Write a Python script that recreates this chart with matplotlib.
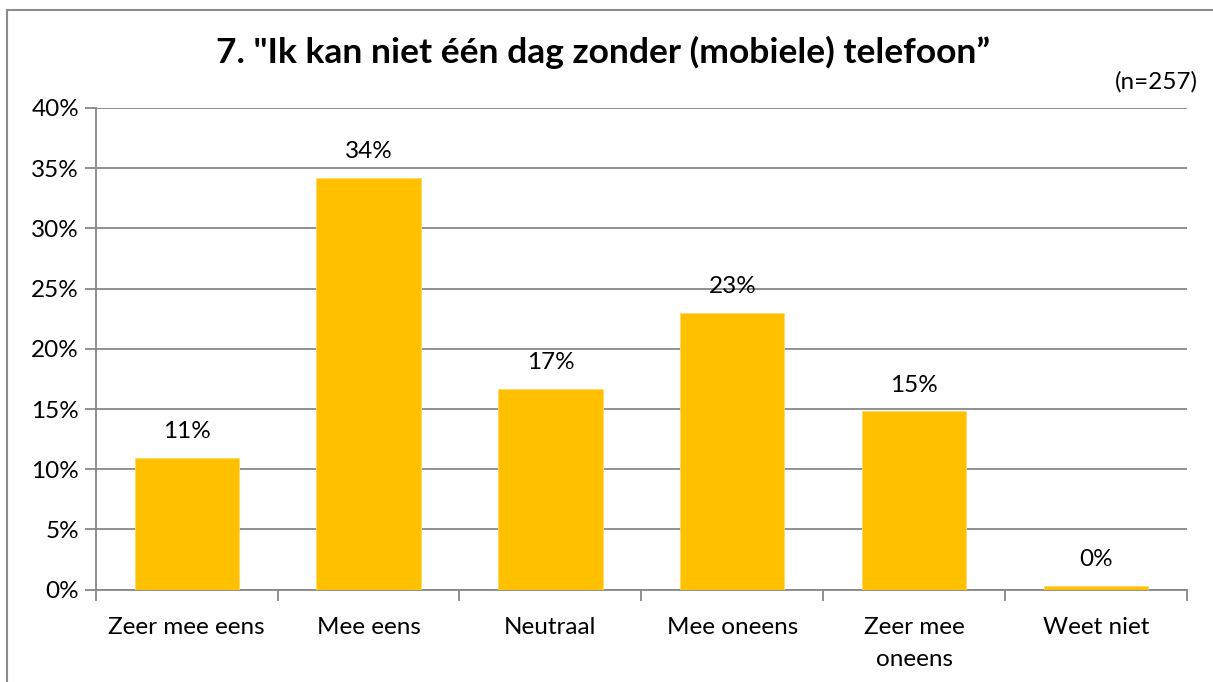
import matplotlib
matplotlib.use("Agg")
import matplotlib.pyplot as plt
from matplotlib.patches import Rectangle
import numpy as np

categories = ["Zeer mee eens", "Mee eens", "Neutraal", "Mee oneens", "Zeer mee\noneens", "Weet niet"]
values = [10.96, 34.2, 16.7, 23.0, 14.8, 0.3]
labels = ["11%", "34%", "17%", "23%", "15%", "0%"]
yticks = [0, 5, 10, 15, 20, 25, 30, 35, 40]

plt.rcParams["font.family"] = ["Lato", "DejaVu Sans"]
GRID = "#888888"
FS = 17.5

fig = plt.figure(figsize=(12.13, 6.82), dpi=100)
W, H = 1213, 682
ax = fig.add_axes([95.7 / W, 1 - 589.6 / H, (1187 - 95.7) / W, (589.6 - 108) / H])

x = np.arange(len(categories))
ax.bar(x, values, width=0.573, color="#FFC000", edgecolor="#FFD966", linewidth=0.6, zorder=3)
for xi, v, lab in zip(x, values, labels):
    ax.annotate(lab, (xi, v), xytext=(0, 19), textcoords="offset points",
                ha="center", va="center", fontsize=FS)

ax.set_xlim(-0.5, len(categories) - 0.5)
ax.set_ylim(0, 40)
ax.set_yticks(yticks)
ax.set_yticklabels([f"{t}%" for t in yticks], fontsize=FS)
ax.yaxis.grid(True, color=GRID, linewidth=1.3, zorder=0)
ax.tick_params(axis="y", length=8, width=1.3, color=GRID, pad=4)

ax.set_xticks(x)
ax.set_xticklabels(categories, fontsize=FS, linespacing=1.6)
ax.tick_params(axis="x", length=0, pad=20)
ax.set_xticks(np.arange(-0.5, len(categories)), minor=True)
ax.tick_params(axis="x", which="minor", length=8, width=1.3, color=GRID)

for s in ["top", "right"]:
    ax.spines[s].set_visible(False)
for s in ["left", "bottom"]:
    ax.spines[s].set_color(GRID)
    ax.spines[s].set_linewidth(1.3)

fig.text(603 / W, 1 - 52 / H, "7. \"Ik kan niet één dag zonder (mobiele) telefoon\u201d",
         ha="center", va="center", fontsize=25.5, fontweight="bold")
fig.text(1198 / W, 1 - 82 / H, "(n=257)", ha="right", va="center", fontsize=FS)

# outer chart border (cut at right and bottom like the reference)
fig.patches.append(Rectangle((7 / W, -0.05), 1.1, 1 - 10 / H + 0.05, transform=fig.transFigure,
                             fill=False, edgecolor="#8c8c8c", linewidth=1.5))

fig.savefig("out.png", dpi=100)
